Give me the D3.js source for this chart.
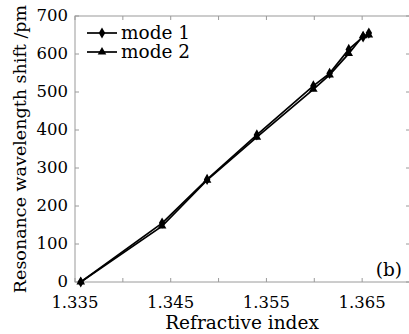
<!DOCTYPE html>
<html><head><meta charset="utf-8">
<script src="https://cdn.jsdelivr.net/npm/d3@7"></script>
<style>body{margin:0;background:#fff}svg{display:block}</style>
</head><body>
<script>
const refIndex = [1.3356, 1.3441, 1.3488, 1.3540, 1.3599, 1.3616, 1.3636, 1.3651, 1.3657];
const mode1 = [0, 155, 270, 387, 516, 549, 612, 645, 655];
const mode2 = [0, 147, 268, 381, 507, 545, 601, 648, 650];
const seriesNames = ["mode 1", "mode 2"];
const xTickLabels = [1.335, 1.345, 1.355, 1.365];
const yTickLabels = [0, 100, 200, 300, 400, 500, 600, 700];

const W = 409, H = 334;
const L = 75, R = 410, T = 16, B = 282;
const font = "DejaVu Serif";
const axisCol = "#9a9a9a";

const svg = d3.select("body").append("svg").attr("width", W).attr("height", H);
const x = d3.scaleLinear().domain([1.335, 1.370]).range([L, R]);
const y = d3.scaleLinear().domain([0, 700]).range([B, T]);

const g = svg.append("g");
g.append("rect").attr("x", L).attr("y", T).attr("width", R - L).attr("height", B - T)
  .attr("fill", "none").attr("stroke", axisCol).attr("stroke-width", 1);

const xMinor = d3.range(1.335, 1.3701, 0.005);
const tl = 4;
xMinor.forEach(v => {
  g.append("line").attr("x1", x(v)).attr("x2", x(v)).attr("y1", B).attr("y2", B - tl).attr("stroke", axisCol);
  g.append("line").attr("x1", x(v)).attr("x2", x(v)).attr("y1", T).attr("y2", T + tl).attr("stroke", axisCol);
});
yTickLabels.forEach(v => {
  g.append("line").attr("x1", L).attr("x2", L + tl).attr("y1", y(v)).attr("y2", y(v)).attr("stroke", axisCol);
  g.append("line").attr("x1", R).attr("x2", R - tl).attr("y1", y(v)).attr("y2", y(v)).attr("stroke", axisCol);
});

g.selectAll(".xl").data(xTickLabels).enter().append("text")
  .attr("x", d => x(d)).attr("y", 308).attr("text-anchor", "middle")
  .attr("font-family", font).attr("font-size", 16.5).attr("fill", "#000")
  .text(d => d3.format(".3f")(d));
g.selectAll(".yl").data(yTickLabels).enter().append("text")
  .attr("x", L - 7).attr("y", d => y(d) + 5).attr("text-anchor", "end")
  .attr("font-family", font).attr("font-size", 16.5).attr("fill", "#000")
  .text(d => d);

svg.append("text").attr("x", 242).attr("y", 329).attr("text-anchor", "middle")
  .attr("font-family", font).attr("font-size", 18.5).attr("fill", "#000").text("Refractive index");
svg.append("text").attr("transform", "translate(26,149) rotate(-90)").attr("text-anchor", "middle")
  .attr("font-family", font).attr("font-size", 17.5).attr("fill", "#000").text("Resonance wavelength shift /pm");

svg.append("text").attr("x", 402).attr("y", 276).attr("text-anchor", "end")
  .attr("font-family", font).attr("font-size", 18.5).attr("fill", "#000").text("(b)");

const line = d3.line().x(d => x(d[0])).y(d => y(d[1]));
const data = [mode1, mode2].map(s => refIndex.map((r, i) => [r, s[i]]));
const shapes = [d3.symbolDiamond, d3.symbolTriangle];
const sizes = [36, 32];

data.forEach((s, k) => {
  svg.append("path").datum(s).attr("d", line).attr("fill", "none").attr("stroke", "#000").attr("stroke-width", 1.7);
  svg.selectAll(".m" + k).data(s).enter().append("path")
    .attr("transform", d => `translate(${x(d[0])},${y(d[1])})`)
    .attr("d", d3.symbol().type(shapes[k]).size(sizes[k])).attr("fill", "#000");
});

seriesNames.forEach((n, k) => {
  const ly = 33 + k * 19;
  svg.append("line").attr("x1", 87).attr("x2", 117).attr("y1", ly).attr("y2", ly).attr("stroke", "#000").attr("stroke-width", 1.7);
  svg.append("path").attr("transform", `translate(102,${ly})`)
    .attr("d", d3.symbol().type(shapes[k]).size(sizes[k])).attr("fill", "#000");
  svg.append("text").attr("x", 121).attr("y", ly + 6).attr("font-family", font).attr("font-size", 18.5)
    .attr("fill", "#000").text(n);
});
</script>
</body></html>
